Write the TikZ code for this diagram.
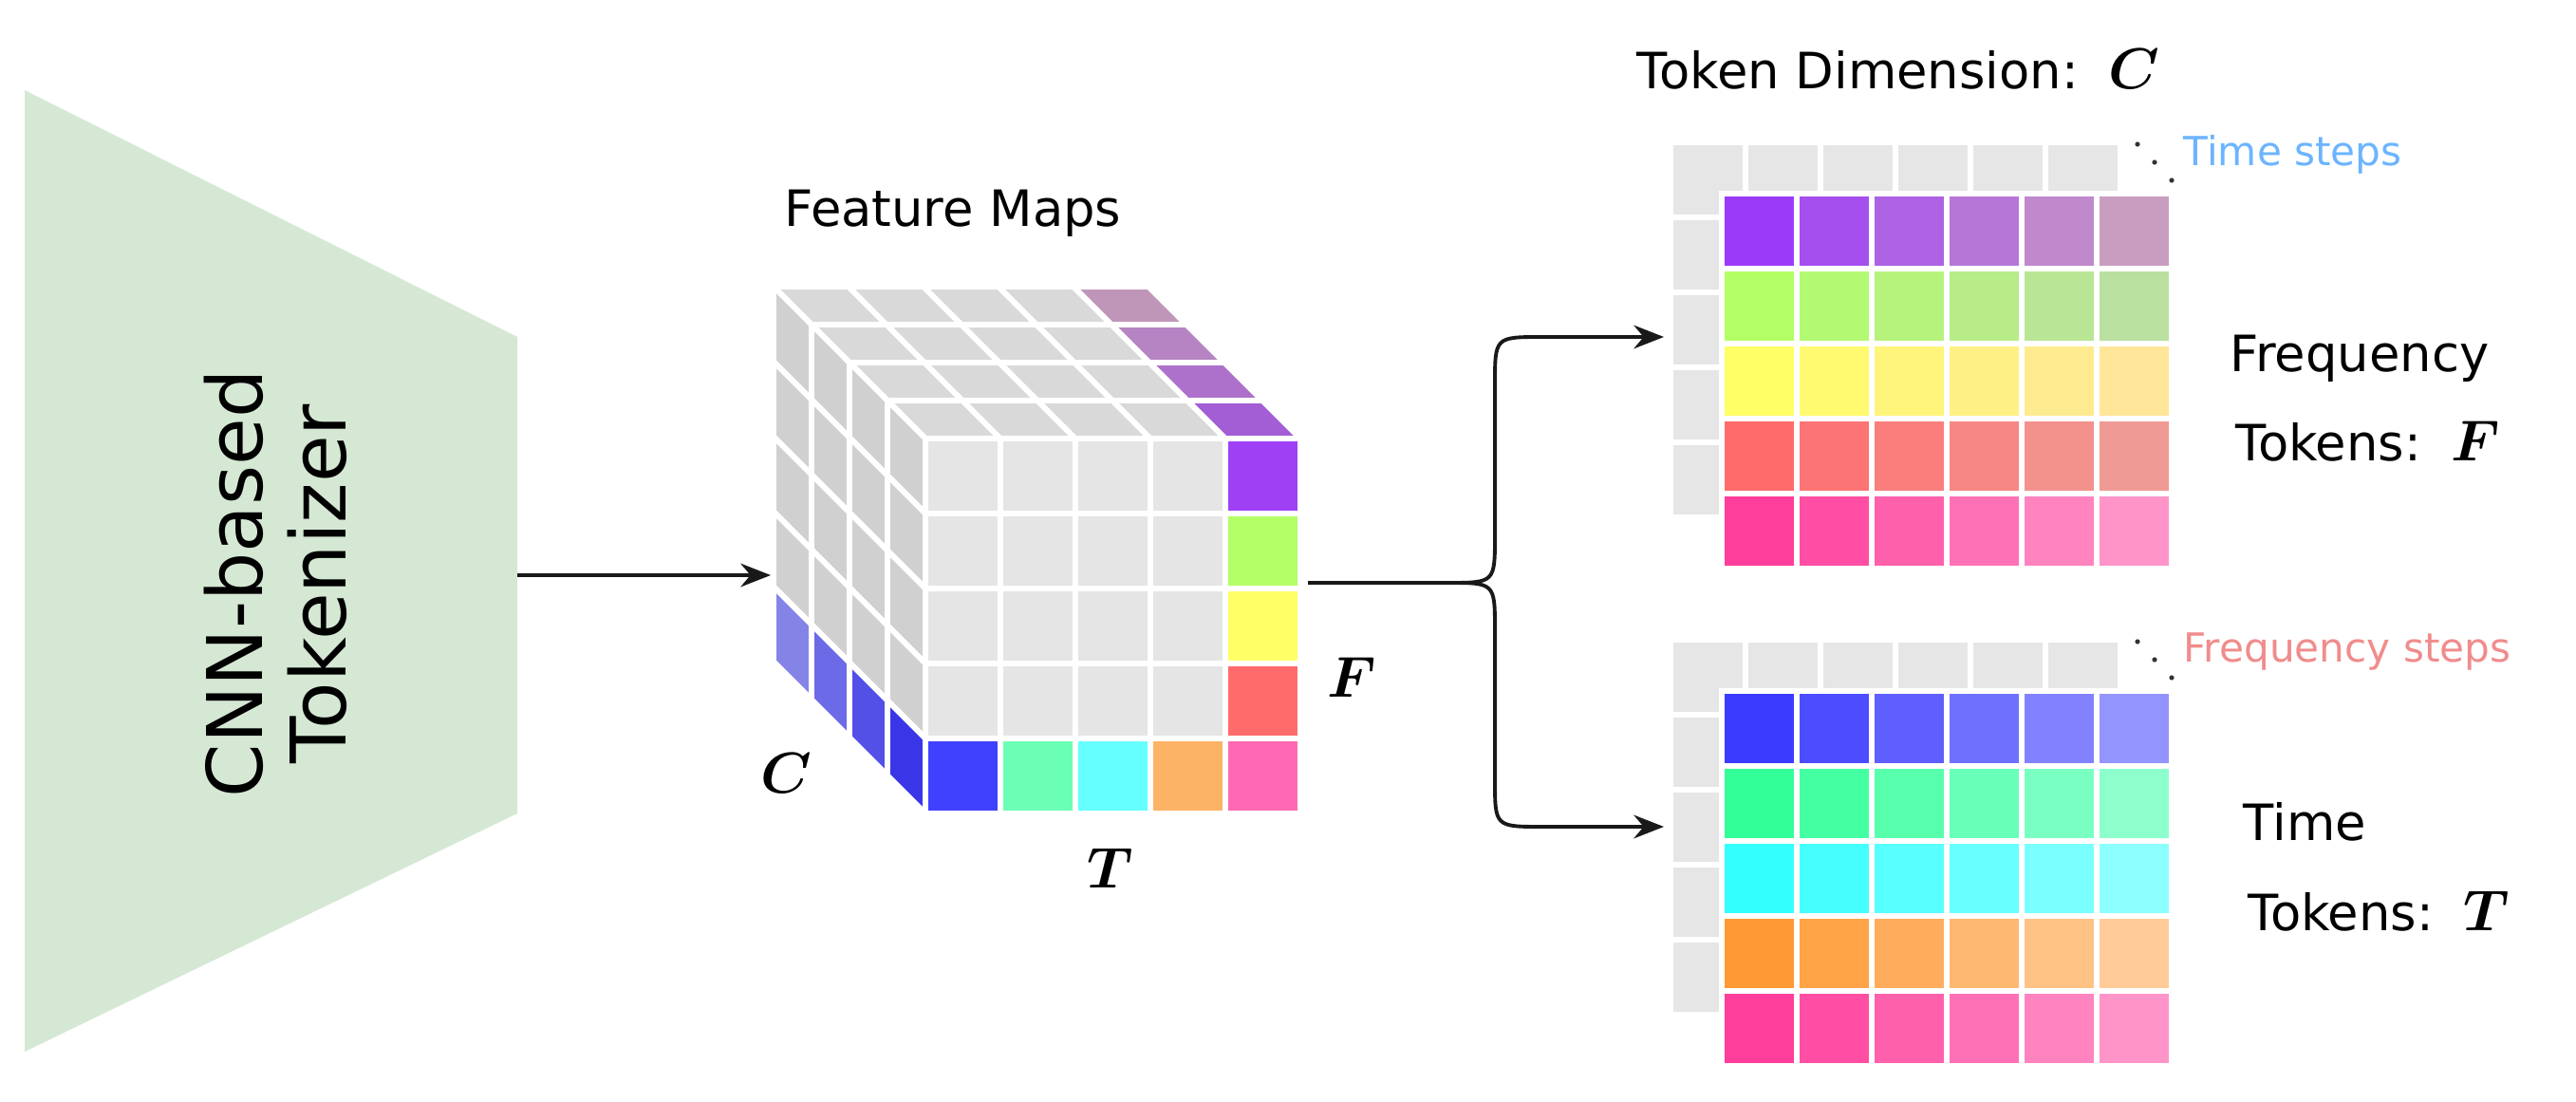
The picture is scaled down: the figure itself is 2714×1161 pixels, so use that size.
\documentclass[tikz,border=0pt]{standalone}
\usepackage{bm}
\usepackage{fontspec}
\setmainfont{DejaVu Sans}
\usetikzlibrary{arrows.meta}
\definecolor{tokg}{HTML}{D5E8D4}
\definecolor{fgray}{HTML}{E5E5E5}
\definecolor{tgray}{HTML}{D9D9D9}
\definecolor{lgray}{HTML}{D0D0D0}
\definecolor{bgray}{HTML}{E6E6E6}
\definecolor{tsblue}{HTML}{6CB4FF}
\definecolor{fssal}{HTML}{F08C8C}
\definecolor{tpA}{HTML}{A35ED6}\definecolor{tpB}{HTML}{C097B8}
\definecolor{lbA}{HTML}{3A36E8}\definecolor{lbB}{HTML}{8585E6}
% grid colours start/end
\definecolor{pA}{HTML}{9B3BFA}\definecolor{pB}{HTML}{C89DC0}
\definecolor{gA}{HTML}{B3FF66}\definecolor{gB}{HTML}{BAE0A0}
\definecolor{yA}{HTML}{FFFF66}\definecolor{yB}{HTML}{FFE699}
\definecolor{rA}{HTML}{FF6B6B}\definecolor{rB}{HTML}{F09A96}
\definecolor{kA}{HTML}{FF3D9A}\definecolor{kB}{HTML}{FF94C8}
\definecolor{bA}{HTML}{3B3BFF}\definecolor{bB}{HTML}{9494FF}
\definecolor{mA}{HTML}{33FF99}\definecolor{mB}{HTML}{8CFFCC}
\definecolor{cA}{HTML}{33FFFF}\definecolor{cB}{HTML}{8CFFFF}
\definecolor{oA}{HTML}{FF9933}\definecolor{oB}{HTML}{FFCC99}
\begin{document}
\begin{tikzpicture}[x=0.01cm,y=-0.01cm,
  cell/.style={draw=white,line width=1.7pt},
  arr/.style={-{Stealth[length=9pt,width=7pt]},line width=1.1pt,black!90},
  lab/.style={font=\fontsize{15}{18}\selectfont,inner sep=0pt},
  mth/.style={font=\fontsize{17}{20}\selectfont,inner sep=0pt}]
\useasboundingbox (0,0) rectangle (2714,1161);
% tokenizer
\fill[tokg] (26,95) -- (545,355) -- (545,857) -- (26,1108) -- cycle;
\node[rotate=90,align=center,font=\fontsize{23}{25}\selectfont] (tok) at (290,615) {CNN-based\\Tokenizer};
\coordinate (tokR) at (545,606);
\coordinate (cubeL) at (812,606);
\draw[arr] (tokR) -- (cubeL);
% cube
\def\xo{975}\def\yo{462}\def\p{79}\def\dd{40}
\foreach \d in {3,2,1,0}{
  \foreach \i in {0,...,4}{
    \pgfmathsetmacro\xa{\xo+\p*\i-\dd*\d}
    \pgfmathsetmacro\ya{\yo-\dd*\d}
    \ifnum\i=4
      \pgfmathtruncatemacro\mx{100-\d*33}
      \def\cc{tpA!\mx!tpB}
    \else \def\cc{tgray}\fi
    \filldraw[cell,fill=\cc] (\xa,\ya) -- ++(\p,0) -- ++(-\dd,-\dd) -- ++(-\p,0) -- cycle;
  }
  \foreach \j in {0,...,4}{
    \pgfmathsetmacro\xa{\xo-\dd*\d}
    \pgfmathsetmacro\ya{\yo+\p*\j-\dd*\d}
    \ifnum\j=4
      \pgfmathtruncatemacro\mx{100-\d*33}
      \def\cc{lbA!\mx!lbB}
    \else \def\cc{lgray}\fi
    \filldraw[cell,fill=\cc] (\xa,\ya) -- ++(0,\p) -- ++(-\dd,-\dd) -- ++(0,-\p) -- cycle;
  }
}
\foreach \i in {0,...,4}{\foreach \j in {0,...,4}{
  \filldraw[cell,fill=fgray] (\xo+\p*\i,\yo+\p*\j) rectangle ++(\p,\p);}}
\foreach \j/\c in {0/A040F5,1/B3FF66,2/FFFF66,3/FF6B6B}{
  \definecolor{tmp}{HTML}{\c}
  \filldraw[cell,fill=tmp] (\xo+\p*4,\yo+\p*\j) rectangle ++(\p,\p);}
\foreach \i/\c in {0/4040FF,1/6BFFB5,2/66FFFF,3/FDB366,4/FF69B4}{
  \definecolor{tmp}{HTML}{\c}
  \filldraw[cell,fill=tmp] (\xo+\p*\i,\yo+\p*4) rectangle ++(\p,\p);}
\node[lab] (fm) at (1004,225) {Feature Maps};
\node[mth] (lc) at (828,815) {$\bm{C}$};
\node[mth] (lt) at (1170,915) {$\bm{T}$};
\node[mth] (lf) at (1424,714) {$\bm{F}$};
% connectors
\coordinate (cubeR) at (1378,614);
\coordinate (topE) at (1753,355);
\coordinate (botE) at (1753,871);
\draw[arr] (cubeR) -- (1525,614) .. controls (1575,614) .. (1575,564) -- (1575,405) .. controls (1575,355) .. (1625,355) -- (topE);
\draw[arr] (1525,614) .. controls (1575,614) .. (1575,664) -- (1575,821) .. controls (1575,871) .. (1625,871) -- (botE);
% token grids
\foreach \gy/\rows/\lbl/\lc in {204/{pA/pB,gA/gB,yA/yB,rA/rB,kA/kB}/Time steps/tsblue,
                                728/{bA/bB,mA/mB,cA/cB,oA/oB,kA/kB}/Frequency steps/fssal}{
  \foreach \i in {0,...,5}{
    \filldraw[cell,fill=bgray] (1760+\p*\i,\gy-54) rectangle ++(\p,\p);}
  \foreach \j in {1,...,4}{
    \filldraw[cell,fill=bgray] (1760,\gy-54+\p*\j) rectangle ++(\p,\p);}
  \foreach \ca/\cb [count=\j from 0] in \rows {
    \foreach \i in {0,...,5}{
      \pgfmathtruncatemacro\mx{100-\i*20}
      \filldraw[cell,fill=\ca!\mx!\cb] (1814+\p*\i,\gy+\p*\j) rectangle ++(\p,\p);}}
  \foreach \k in {0,1,2}{\fill[black!80] (2252+18*\k,\gy-52+19*\k) circle (2.6);}
  \node[anchor=west,inner sep=0pt,text=\lc,font=\fontsize{12}{14}\selectfont] at (2300,\gy-41) {\lbl};
}
\node[lab] (td) at (2000,73) {Token Dimension:\, \fontsize{17}{20}\selectfont$\bm{C}$};
\node[lab,anchor=west] (fr) at (2349,378) {Frequency};
\node[lab,anchor=west] (tf) at (2355,465) {Tokens:\, \fontsize{17}{20}\selectfont$\bm{F}$};
\node[lab,anchor=west] (ti) at (2363,866) {Time};
\node[lab,anchor=west] (tt) at (2368,960) {Tokens:\, \fontsize{17}{20}\selectfont$\bm{T}$};
\end{tikzpicture}
\end{document}
